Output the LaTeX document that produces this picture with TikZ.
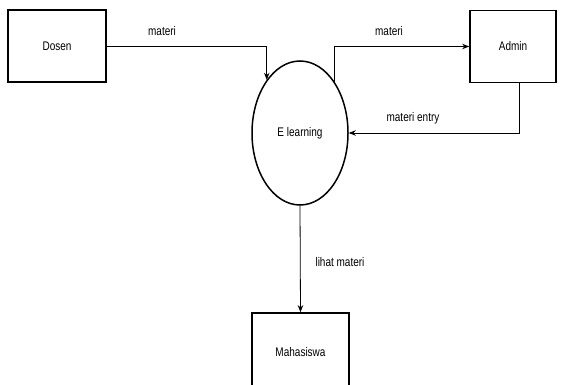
\documentclass[tikz,border=0pt]{standalone}
\usepackage{fontspec}
\setmainfont[FakeStretch=0.8]{Liberation Sans}
\usetikzlibrary{shapes.geometric,arrows.meta}
\begin{document}
\begin{tikzpicture}[x=1pt,y=-1pt,
  every node/.style={font=\fontsize{12.5}{14}\selectfont},
  entity/.style={draw,line width=1.7pt,minimum width=98pt,minimum height=72pt,inner sep=0pt},
  process/.style={draw,ellipse,line width=1.5pt,minimum width=96pt,minimum height=144pt,inner sep=0pt},
  flow/.style={line width=0.8pt,-{Stealth[length=7pt,width=5.5pt]}},
  flowlabel/.style={inner sep=0pt}]
\useasboundingbox (0,0) rectangle (562,385);
\fill[white] (0,0) rectangle (562,385);

% external entities and the process
\node[entity] (dosen) at (57,46) {Dosen};
\node[entity,minimum width=86pt] (admin) at (513,46.5) {Admin};
\node[process] (elearn) at (300,133) {E learning};
\node[entity,minimum width=97pt,minimum height=78pt] (maha) at (300.5,352) {Mahasiswa};
\coordinate (adminout) at (519,83);

% data flows
\draw[flow] (dosen.east) -| (elearn.122);
\draw[flow] (elearn.56) |- (admin.west);
\draw[flow] (adminout) |- (elearn.east);
\draw[flow] (elearn.south) -- (maha.north);

% flow labels
\node[flowlabel] (l1) at (162,31) {materi};
\node[flowlabel] (l2) at (389,31) {materi};
\node[flowlabel] (l3) at (413,118) {materi entry};
\node[flowlabel] (l4) at (340,262) {lihat materi};
\end{tikzpicture}
\end{document}
